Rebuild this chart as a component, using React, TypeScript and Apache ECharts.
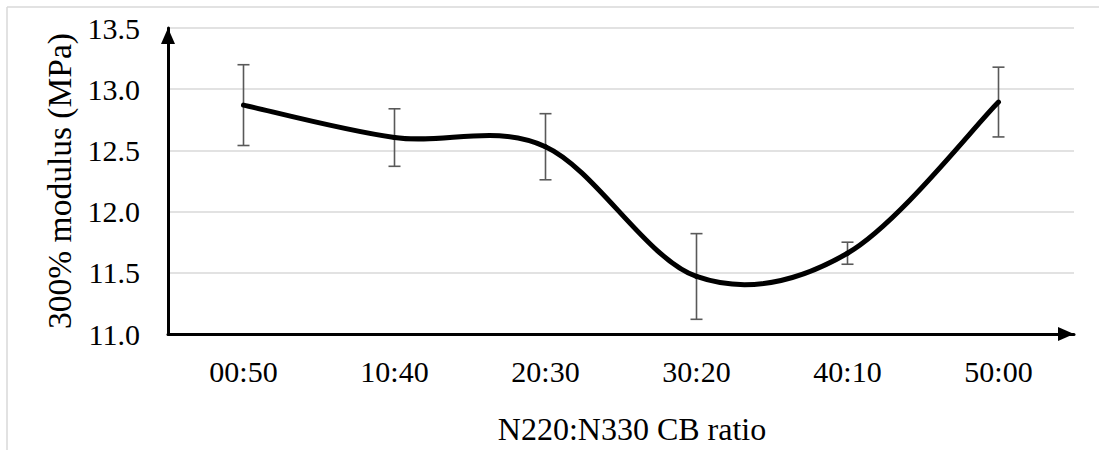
import React, { useEffect, useRef } from "react";
import * as echarts from "echarts";

const categories = ["00:50", "10:40", "20:30", "30:20", "40:10", "50:00"];
const modulus = [12.87, 12.605, 12.53, 11.47, 11.66, 12.895];
const errors = [0.33, 0.235, 0.27, 0.35, 0.09, 0.285];
const yMin = 11.0;
const yMax = 13.5;
const yStep = 0.5;

const FONT = "Liberation Serif";

export default function App() {
  const ref = useRef<HTMLDivElement>(null);
  useEffect(() => {
    document.body.style.margin = "0";
    const chart = echarts.init(ref.current!, null, { renderer: "svg" });
    const errData = categories.map((c, i) => [i, modulus[i] - errors[i], modulus[i] + errors[i]]);
    const segData = modulus.slice(0, -1).map((v, i) => [i, v]);
    chart.setOption({
      animation: false,
      backgroundColor: "#fff",
      grid: { left: 168, right: 25, top: 28, bottom: 114, containLabel: false },
      graphic: [
        { type: "line", shape: { x1: 7, y1: 7, x2: 1099, y2: 7 }, style: { stroke: "#d9d9d9", lineWidth: 1.5 } },
        { type: "line", shape: { x1: 7, y1: 7, x2: 7, y2: 450 }, style: { stroke: "#d9d9d9", lineWidth: 1.5 } },
      ],
      textStyle: { fontFamily: FONT },
      xAxis: {
        type: "category",
        data: categories,
        boundaryGap: true,
        axisTick: { show: false },
        axisLine: {
          show: true,
          lineStyle: { color: "#000", width: 3 },
          symbol: ["none", "triangle"],
          symbolSize: [14, 16],
          symbolOffset: [0, -8],
        },
        axisLabel: { color: "#000", fontFamily: FONT, fontSize: 30, margin: 22 },
        name: "N220:N330 CB ratio",
        nameLocation: "middle",
        nameGap: 79,
        nameTextStyle: { color: "#000", fontFamily: FONT, fontSize: 32, padding: [0, 0, 0, 22] },
      },
      yAxis: {
        type: "value",
        min: yMin,
        max: yMax,
        interval: yStep,
        axisTick: { show: false },
        axisLine: {
          show: true,
          lineStyle: { color: "#000", width: 3 },
          symbol: ["none", "triangle"],
          symbolSize: [14, 16],
          symbolOffset: [0, -8],
        },
        splitLine: { show: true, lineStyle: { color: "#d9d9d9", width: 1.5 } },
        axisLabel: {
          color: "#000",
          fontFamily: FONT,
          fontSize: 30,
          margin: 28,
          formatter: (v: number) => v.toFixed(1),
        },
        name: "300% modulus (MPa)",
        nameLocation: "middle",
        nameGap: 91,
        nameRotate: 90,
        nameTextStyle: { color: "#000", fontFamily: FONT, fontSize: 33.5 },
      },
      series: [
        {
          type: "custom",
          z: 1,
          data: errData,
          renderItem: (params: any, api: any) => {
            const x = api.value(0);
            const lo = api.coord([x, api.value(1)]);
            const hi = api.coord([x, api.value(2)]);
            const hw = 6;
            const style = { stroke: "#595959", lineWidth: 1.6 };
            return {
              type: "group",
              children: [
                { type: "line", shape: { x1: lo[0], y1: lo[1], x2: hi[0], y2: hi[1] }, style },
                { type: "line", shape: { x1: lo[0] - hw, y1: lo[1], x2: lo[0] + hw, y2: lo[1] }, style },
                { type: "line", shape: { x1: hi[0] - hw, y1: hi[1], x2: hi[0] + hw, y2: hi[1] }, style },
              ],
            };
          },
        },
        {
          type: "custom",
          z: 3,
          data: segData,
          renderItem: (params: any, api: any) => {
            const i = api.value(0);
            const n = modulus.length;
            const p = (k: number) => {
              const kk = Math.max(0, Math.min(n - 1, k));
              return api.coord([kk, modulus[kk]]);
            };
            const p0 = p(i - 1);
            const p1 = p(i);
            const p2 = p(i + 1);
            const p3 = p(i + 2);
            const cp1 = [p1[0] + (p2[0] - p0[0]) / 6, p1[1] + (p2[1] - p0[1]) / 6];
            const cp2 = [p2[0] - (p3[0] - p1[0]) / 6, p2[1] - (p3[1] - p1[1]) / 6];
            return {
              type: "bezierCurve",
              shape: {
                x1: p1[0], y1: p1[1],
                cpx1: cp1[0], cpy1: cp1[1],
                cpx2: cp2[0], cpy2: cp2[1],
                x2: p2[0], y2: p2[1],
              },
              style: { stroke: "#000", lineWidth: 5, fill: null, lineCap: "round" },
            };
          },
        },
      ],
    });
    return () => chart.dispose();
  }, []);
  return <div ref={ref} style={{ width: 1099, height: 450 }} />;
}
